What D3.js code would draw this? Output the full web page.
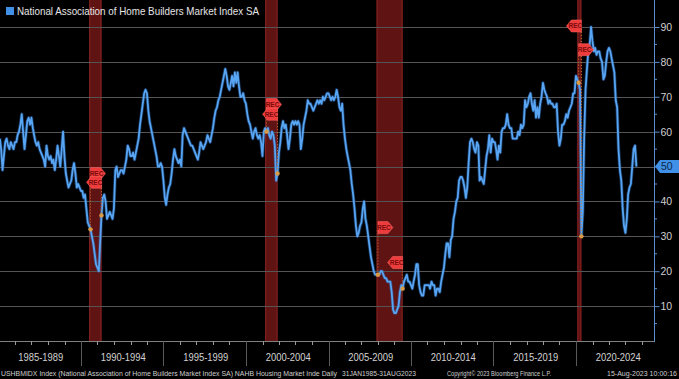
<!DOCTYPE html>
<html>
<head>
<meta charset="utf-8">
<script src="https://cdn.jsdelivr.net/npm/d3@7"></script>
<style>
html,body{margin:0;padding:0;background:#000;}
svg{display:block;}
</style>
</head>
<body>
<svg id="chart" width="679" height="379"></svg>
<script>
// ---------- DATA (monthly, Jan 1985 .. Aug 2023) ----------
const hmi1985_1989 = [
  58,55,49,53,57,58,56,55,57,56,55,57,
  57,59,60,62,65,60,55,59,63,64,62,64,
  61,59,57,56,57,55,54,53,52,50,56,53,
  52,53,51,52,49,52,56,53,50,55,60,53,
  48,46,44,45,46,49,51,48,44,45,44,43
];
const hmi1990_1999 = [
  43,41,42,38,34,33,32,30,28,25,22,21,
  20,28,36,41,42,40,35,36,37,36,35,38,
  49,50,47,48,49,49,48,50,52,56,55,53,
  53,54,52,54,56,58,62,65,68,71,72,71,
  66,63,61,59,57,55,53,50,50,51,50,46,
  41,39,42,44,45,48,52,55,53,52,51,52,
  50,59,61,60,59,58,57,56,56,55,54,53,
  52,54,57,56,55,56,57,59,58,57,59,61,
  64,66,67,69,70,72,74,76,78,76,73,72,
  74,76,73,77,74,77,73,70,70,71,69,68
];
const hmi2000_2009 = [
  65,63,62,60,58,60,61,59,58,59,57,53,
  60,61,60,61,59,58,60,59,56,46,48,54,
  57,61,63,61,62,59,55,58,62,63,62,63,
  62,63,62,55,58,62,64,66,69,68,68,67,
  66,67,68,69,68,69,68,70,69,70,71,71,
  70,69,70,69,70,72,70,67,66,68,62,58,
  55,53,51,49,45,42,38,33,30,31,33,34,
  38,40,35,33,30,27,24,22,20,19,19,19,
  19,20,20,19,18,18,17,17,17,14,9,8,
  8,9,10,14,16,15,17,18,19,17,17,16
];
const hmi2010_2019 = [
  15,17,19,22,22,16,14,13,13,16,16,16,
  16,15,17,16,16,13,15,15,14,17,19,21,
  25,28,28,24,29,30,35,37,40,41,46,47,
  47,46,44,41,44,51,57,58,57,55,54,57,
  56,46,47,46,45,49,53,55,59,54,58,57,
  57,55,52,56,54,60,61,61,62,65,62,61,
  61,58,58,58,58,60,59,62,61,62,69,67,
  68,70,71,68,66,69,64,67,64,68,70,74,
  72,71,70,68,69,68,68,67,67,68,60,56,
  58,62,62,63,65,64,66,67,68,71,71,76
];
const hmi2020_2023 = [
  75,74,72,30,37,58,72,78,83,85,90,86,
  83,84,82,83,83,81,80,75,76,80,83,84,
  83,81,79,77,69,67,55,49,46,38,33,31,
  35,42,44,45,50,55,56,50
];
const seriesName = "National Association of Home Builders Market Index SA";
const periodLabels = ["1985-1989","1990-1994","1995-1999","2000-2004","2005-2009","2010-2014","2015-2019","2020-2024"];
const yTickValues = [10,20,30,40,50,60,70,80,90];
const recStarts = ["1990-07","2001-03","2007-12","2020-02"];
const recEnds   = ["1991-03","2001-11","2009-06","2020-04"];
const recStartFlagLevel = [48, 67.8, 32.5, 83.5];
const recEndFlagLevel   = [45.5, 65.0, 22.5, 90.3];
const footerLeft = "USHBMIDX Index (National Association of Home Builders Market Index SA) NAHB Housing Market Inde  Daily";
const footerRange = "31JAN1985-31AUG2023";
const footerCopy = "Copyright\u00A9 2023 Bloomberg Finance L.P.";
const footerStamp = "15-Aug-2023 10:00:16";

// ---------- BUILD ----------
const values = [].concat(hmi1985_1989, hmi1990_1999, hmi2000_2009, hmi2010_2019, hmi2020_2023);
const monthEnd = (y, m) => new Date(y, m + 1, 0); // m 0-based
const data = values.map((v, i) => ({date: monthEnd(1985 + Math.floor(i / 12), i % 12), value: v}));
const valueAt = ym => {
  const [y, m] = ym.split("-").map(Number);
  return values[(y - 1985) * 12 + (m - 1)];
};

const svg = d3.select("#chart");
const W = 679, H = 379;
const axisX = 654, plotBottom = 341;
const ff = "Liberation Sans, Arial, sans-serif";

const x = d3.scaleTime().domain([new Date(1985, 0, 1), new Date(2025, 0, 1)]).range([-1.5, 658.5]);
const y = d3.scaleLinear().domain([0, 90]).range([plotBottom, 27]);

svg.append("rect").attr("width", W).attr("height", H).attr("fill", "#000");

// recession bands
recStarts.forEach((s, k) => {
  const [sy, sm] = s.split("-").map(Number);
  const [ey, em] = recEnds[k].split("-").map(Number);
  const x0 = x(new Date(sy, sm - 1, 1));
  const x1 = x(monthEnd(ey, em - 1));
  svg.append("rect").attr("x", x0).attr("y", 0).attr("width", Math.max(2.5, x1 - x0)).attr("height", plotBottom)
    .attr("fill", "#601313");
  svg.append("line").attr("x1", x0 + 0.5).attr("x2", x0 + 0.5).attr("y1", 0).attr("y2", plotBottom)
    .attr("stroke", "#862222").attr("stroke-width", 1);
  svg.append("line").attr("x1", x1 - 0.5).attr("x2", x1 - 0.5).attr("y1", 0).attr("y2", plotBottom)
    .attr("stroke", "#862222").attr("stroke-width", 1);
});

// gridlines
svg.append("g").selectAll("line").data(yTickValues).join("line")
  .attr("x1", 0).attr("x2", axisX)
  .attr("y1", d => Math.round(y(d)) + 0.5).attr("y2", d => Math.round(y(d)) + 0.5)
  .attr("stroke", "#555555").attr("stroke-width", 1);

// x axis line + year ticks + period separators
svg.append("line").attr("x1", 0).attr("x2", axisX).attr("y1", plotBottom + 0.5).attr("y2", plotBottom + 0.5)
  .attr("stroke", "#808080");
const years = d3.range(1985, 2025).map(yr => new Date(yr, 0, 1));
svg.append("g").selectAll("line").data(years).join("line")
  .attr("x1", d => Math.round(x(d)) + 0.5).attr("x2", d => Math.round(x(d)) + 0.5)
  .attr("y1", plotBottom).attr("y2", plotBottom + 4)
  .attr("stroke", "#9a9a9a");
const periodStarts = periodLabels.map(p => +p.slice(0, 4));
svg.append("g").selectAll("line").data(periodStarts.slice(1)).join("line")
  .attr("x1", d => Math.round(x(new Date(d, 0, 1))) + 0.5).attr("x2", d => Math.round(x(new Date(d, 0, 1))) + 0.5)
  .attr("y1", plotBottom).attr("y2", 366)
  .attr("stroke", "#5a5a5a");
svg.append("g").selectAll("text").data(periodLabels).join("text")
  .attr("x", d => (x(new Date(+d.slice(0, 4), 0, 1)) + x(new Date(+d.slice(0, 4) + 5, 0, 1))) / 2 + 1)
  .attr("y", 361)
  .attr("text-anchor", "middle")
  .attr("font-family", ff)
  .attr("font-size", 11)
  .attr("textLength", 45).attr("lengthAdjust", "spacingAndGlyphs")
  .attr("fill", "#d2d2d2")
  .text(d => d);

// right axis
const yAxis = d3.axisRight(y).tickValues(yTickValues).tickSize(5).tickPadding(1).tickFormat(d3.format("d"));
const gy = svg.append("g").attr("transform", `translate(${axisX + 0.5},0)`).call(yAxis);
gy.select(".domain").remove();
gy.selectAll(".tick line").attr("stroke", "#5a8fd0");
gy.selectAll(".tick text").attr("fill", "#cfcfcf").attr("font-size", 10.5).attr("font-family", ff);
svg.append("line").attr("x1", axisX + 0.5).attr("x2", axisX + 0.5).attr("y1", 0).attr("y2", plotBottom + 1)
  .attr("stroke", "#5a8fd0").attr("stroke-width", 1);
svg.append("g").selectAll("line").data(d3.range(5, 90, 10)).join("line")
  .attr("x1", axisX).attr("x2", axisX + 3)
  .attr("y1", d => y(d)).attr("y2", d => y(d))
  .attr("stroke", "#5a8fd0");

// the line
const line = d3.line().x(d => x(d.date)).y(d => y(d.value)).curve(d3.curveLinear);
svg.append("path").datum(data).attr("d", line)
  .attr("fill", "none").attr("stroke", "#2f6fbf").attr("stroke-width", 3.4).attr("stroke-opacity", 0.45)
  .attr("stroke-linejoin", "round");
svg.append("path").datum(data).attr("d", line)
  .attr("fill", "none").attr("stroke", "#58a5f4").attr("stroke-width", 1.8)
  .attr("stroke-linejoin", "round");

// recession event markers
const flag = (g, xp, yp, dir) => {
  const w = 15, h = 12, tip = 5;
  let pts;
  if (dir > 0) pts = [[xp, yp - h / 2], [xp + w - tip, yp - h / 2], [xp + w, yp], [xp + w - tip, yp + h / 2], [xp, yp + h / 2]];
  else pts = [[xp, yp - h / 2], [xp - w + tip, yp - h / 2], [xp - w, yp], [xp - w + tip, yp + h / 2], [xp, yp + h / 2]];
  g.append("polygon").attr("points", pts.map(p => p.join(",")).join(" "))
    .attr("fill", "#ee3b3b").attr("stroke", "#ff6a6a").attr("stroke-width", 0.5);
  g.append("text").attr("x", xp + dir * (w - tip) / 2 + dir * 1).attr("y", yp + 2.3)
    .attr("text-anchor", "middle").attr("font-family", ff)
    .attr("font-size", 6.5).attr("font-weight", "bold").attr("fill", "#7a0c0c").text("REC");
};
const ev = svg.append("g");
const events = [];
recStarts.forEach((s, k) => {
  const [sy, sm] = s.split("-").map(Number);
  const [ey, em] = recEnds[k].split("-").map(Number);
  events.push({d: monthEnd(sy, sm - 1), v: valueAt(s), f: recStartFlagLevel[k], dir: 1});
  events.push({d: monthEnd(ey, em - 1), v: valueAt(recEnds[k]), f: recEndFlagLevel[k], dir: -1});
});
events.forEach(e => {
  ev.append("line").attr("x1", x(e.d)).attr("x2", x(e.d)).attr("y1", y(e.f)).attr("y2", y(e.v))
    .attr("stroke", "#c9782f").attr("stroke-width", 1).attr("stroke-dasharray", "1,2");
});
events.forEach(e => {
  ev.append("circle").attr("cx", x(e.d)).attr("cy", y(e.v)).attr("r", 2.2).attr("fill", "#d99a45");
});
events.forEach(e => flag(ev, x(e.d), y(e.f), e.dir));

// last value label
const last = values[values.length - 1];
const ly = y(last);
svg.append("polygon")
  .attr("points", [[axisX + 1, ly], [axisX + 6, ly - 6.5], [W, ly - 6.5], [W, ly + 6.5], [axisX + 6, ly + 6.5]].map(p => p.join(",")).join(" "))
  .attr("fill", "#3f90e6");
svg.append("text").attr("x", axisX + 7).attr("y", ly + 3.8).attr("font-size", 10.5)
  .attr("font-family", ff).attr("fill", "#0b2748").text(last);

// legend
svg.append("rect").attr("x", 6).attr("y", 7).attr("width", 8).attr("height", 8).attr("fill", "#3f90e6");
svg.append("text").attr("x", 17).attr("y", 15).attr("font-size", 10.5)
  .attr("font-family", ff).attr("fill", "#e6e6e6")
  .attr("textLength", 242).attr("lengthAdjust", "spacingAndGlyphs").text(seriesName);

// footer
svg.append("text").attr("x", 1).attr("y", 376).attr("font-size", 6.5).attr("font-family", ff).attr("fill", "#cfcfcf")
  .attr("textLength", 336).attr("lengthAdjust", "spacingAndGlyphs").text(footerLeft);
svg.append("text").attr("x", 342).attr("y", 376).attr("font-size", 6.8).attr("font-family", ff).attr("fill", "#cfcfcf")
  .attr("textLength", 74).attr("lengthAdjust", "spacingAndGlyphs").text(footerRange);
svg.append("text").attr("x", 447).attr("y", 376).attr("font-size", 7).attr("font-family", ff).attr("fill", "#cfcfcf")
  .attr("textLength", 104).attr("lengthAdjust", "spacingAndGlyphs").text(footerCopy);
svg.append("text").attr("x", 607).attr("y", 376).attr("font-size", 7).attr("font-family", ff).attr("fill", "#cfcfcf")
  .attr("textLength", 70).attr("lengthAdjust", "spacingAndGlyphs").text(footerStamp);
</script>
</body>
</html>
